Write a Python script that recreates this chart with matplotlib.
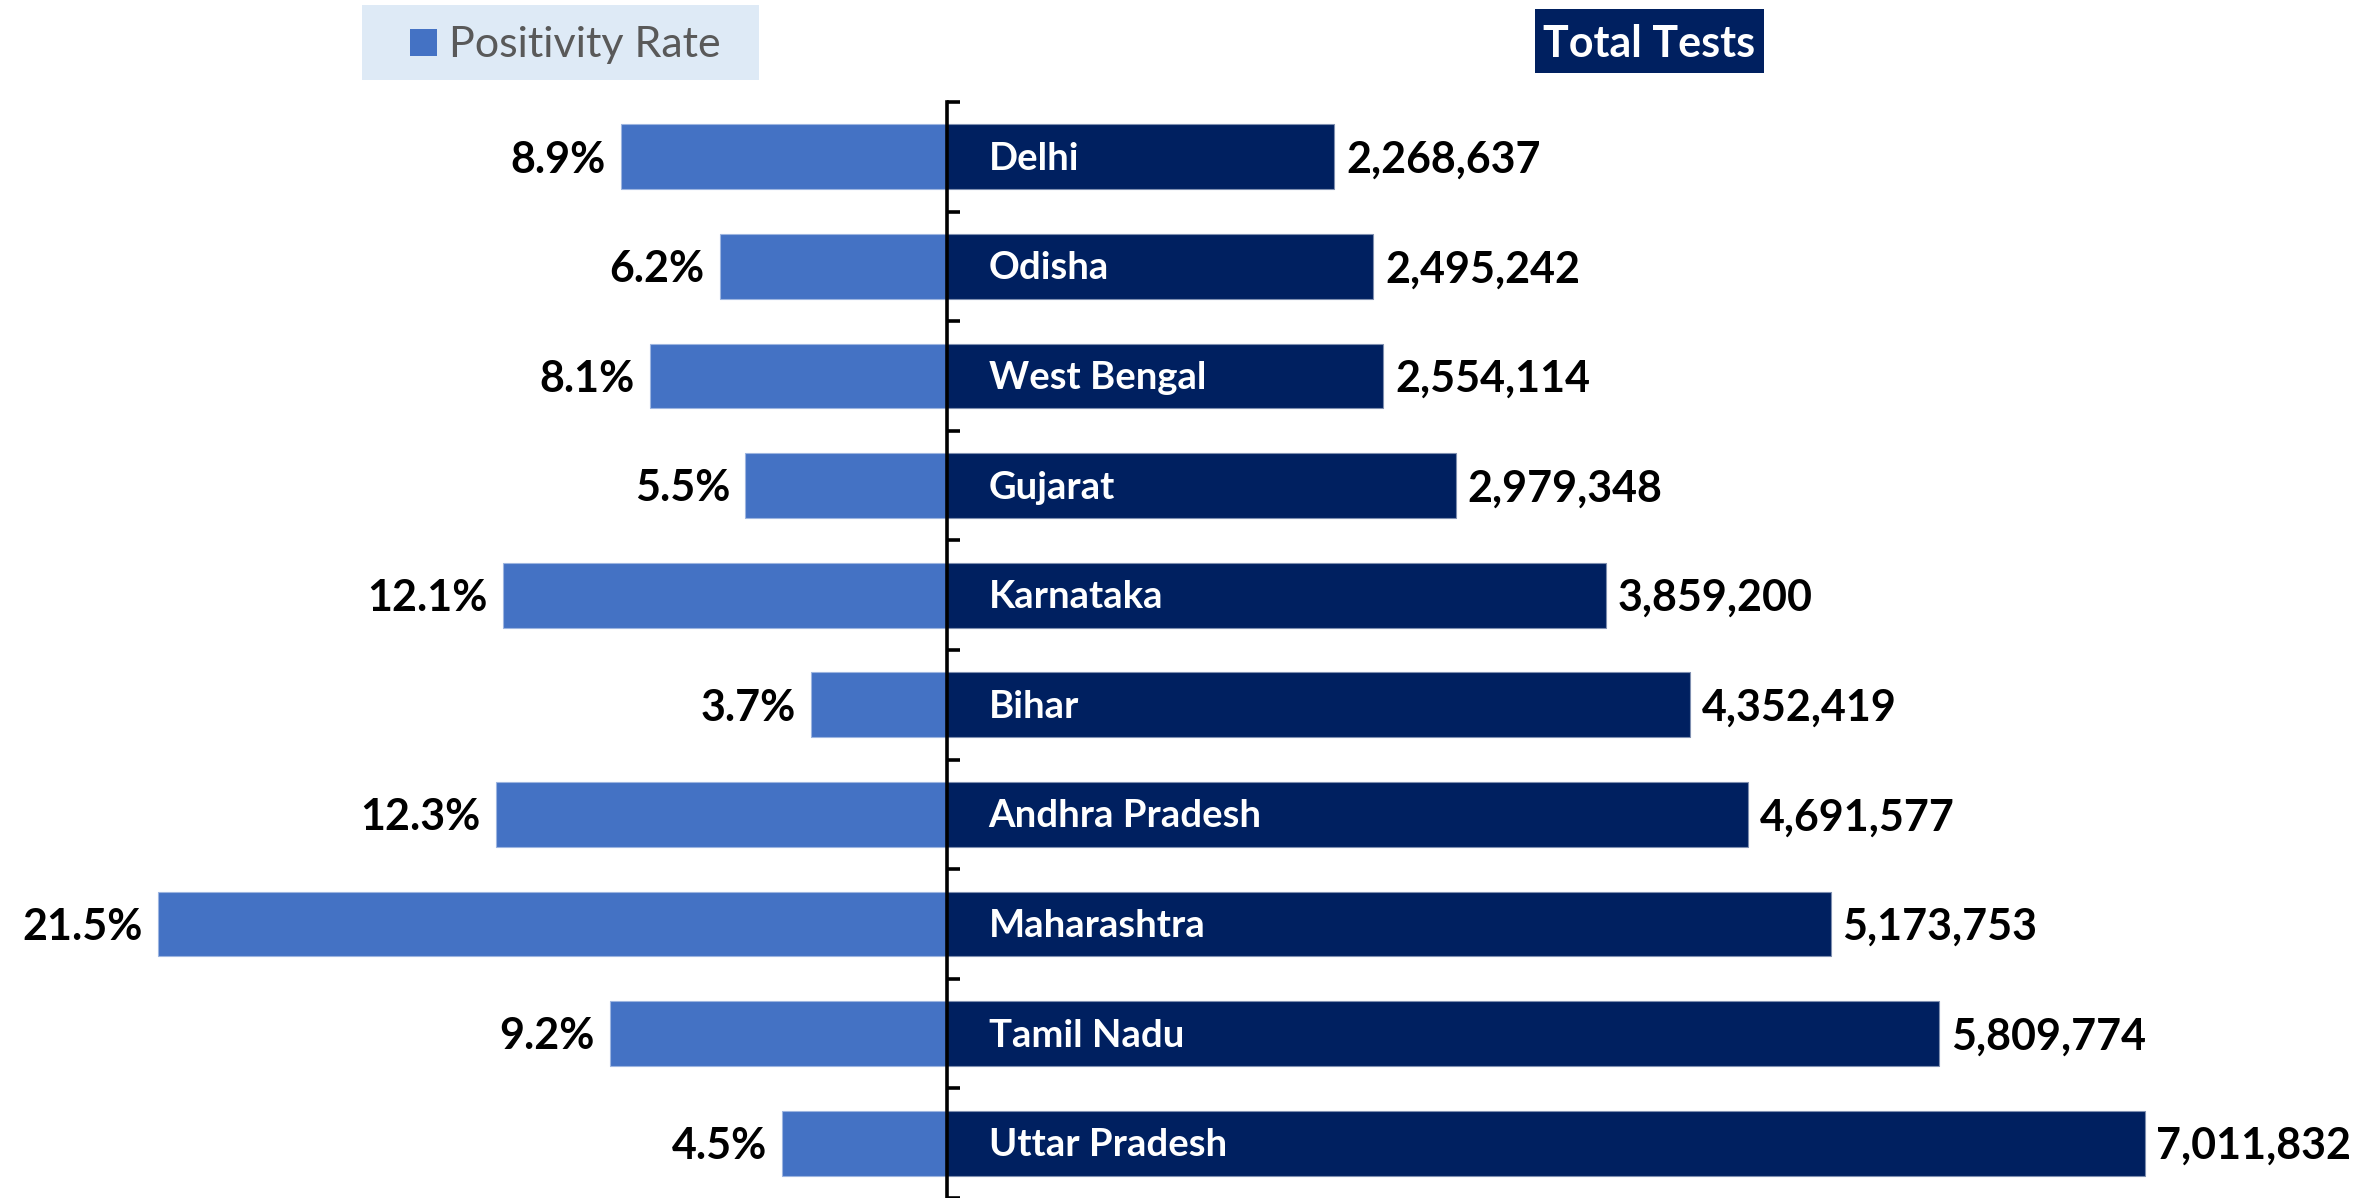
import numpy as np
import matplotlib
matplotlib.use("Agg")
import matplotlib.pyplot as plt
from matplotlib.patches import Rectangle

plt.rcParams["font.family"] = ["Lato", "DejaVu Sans"]

# ─────────────────────────────────────────────
# 数据
# ─────────────────────────────────────────────
states = ["Delhi", "Odisha", "West Bengal", "Gujarat", "Karnataka", "Bihar",
          "Andhra Pradesh", "Maharashtra", "Tamil Nadu", "Uttar Pradesh"]
positivity = [8.9, 6.2, 8.1, 5.5, 12.1, 3.7, 12.3, 21.5, 9.2, 4.5]
total_tests = [2268637, 2495242, 2554114, 2979348, 3859200, 4352419,
               4691577, 5173753, 5809774, 7011832]

BLUE = "#4472C4"
NAVY = "#002060"
W, H = 2379, 1198

fig = plt.figure(figsize=(W / 100, H / 100), dpi=100)
split = 947 / W
top = 1 - 102 / H

ax_l = fig.add_axes([0, 0, split, top])
ax_r = fig.add_axes([split, 0, 1 - split, top])

y = np.arange(len(states))

# 左侧: 阳性率
ax_l.barh(y, positivity, height=0.59, color=BLUE, edgecolor="#9db5e0", linewidth=0.8)
ax_l.set_xlim(25.82, 0)
ax_l.set_ylim(len(states) - 0.5, -0.5)
ax_l.axis("off")
for i, v in enumerate(positivity):
    ax_l.annotate(f"{v:.1f}%", xy=(v, i), xytext=(-11, -2), textcoords="offset points",
                  ha="right", va="center", fontsize=31, fontweight="bold", color="black")

# 右侧: 检测总数
ax_r.barh(y, total_tests, height=0.59, color=NAVY, edgecolor="#7f8fb0", linewidth=0.8)
ax_r.set_xlim(0, 8.384e6)
ax_r.set_ylim(len(states) - 0.5, -0.5)
for s in ["top", "right", "bottom"]:
    ax_r.spines[s].set_visible(False)
ax_r.spines["left"].set_linewidth(2.6)
ax_r.spines["left"].set_zorder(5)
ax_r.set_xticks([])
ax_r.set_yticks(np.arange(-0.5, len(states), 1))
ax_r.set_yticklabels([])
ax_r.tick_params(axis="y", direction="in", length=9, width=2.6)

for i, (name, v) in enumerate(zip(states, total_tests)):
    ax_r.annotate(name, xy=(0, i), xytext=(30, -1.5), textcoords="offset points",
                  ha="left", va="center", fontsize=27.5, fontweight="bold", color="white")
    ax_r.annotate(f"{v:,}", xy=(v, i), xytext=(8.5, -2), textcoords="offset points",
                  ha="left", va="center", fontsize=31, fontweight="bold", color="black")

# 图例框
fig.patches.append(Rectangle((362 / W, 1 - 80 / H), (759 - 362) / W, 75 / H,
                             transform=fig.transFigure, facecolor="#DEEAF6", edgecolor="none"))
fig.patches.append(Rectangle((410 / W, 1 - 56 / H), 27 / W, 27 / H,
                             transform=fig.transFigure, facecolor=BLUE, edgecolor="none"))
fig.text(449 / W, 1 - 45 / H, "Positivity Rate", ha="left", va="center",
         fontsize=31, color="#595959")

fig.patches.append(Rectangle((1535 / W, 1 - 73 / H), (1764 - 1535) / W, 64 / H,
                             transform=fig.transFigure, facecolor=NAVY, edgecolor="none"))
fig.text(1649.5 / W, 1 - 44 / H, "Total Tests", ha="center", va="center",
         fontsize=31, fontweight="bold", color="white")

plt.savefig("out.png", dpi=100)
plt.close()
